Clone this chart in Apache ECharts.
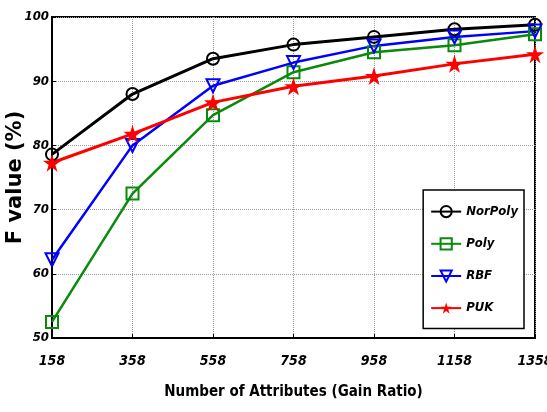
<!DOCTYPE html>
<html>
<head>
<meta charset="utf-8">
<script src="https://cdn.jsdelivr.net/npm/echarts@6/dist/echarts.min.js"></script>
<style>
  html, body { margin: 0; padding: 0; background: #fff; }
  #chart { width: 547px; height: 412px; }
</style>
</head>
<body>
<div id="chart"></div>
<script>
// number of attributes on the x axis
const attributes = ['158', '358', '558', '758', '958', '1158', '1358'];

// F value (%) per kernel
const norPoly = [78.6, 88.0, 93.5, 95.7, 96.9, 98.1, 98.8];
const poly    = [52.5, 72.5, 84.7, 91.4, 94.5, 95.6, 97.3];
const rbf     = [62.2, 80.0, 89.3, 92.9, 95.5, 96.9, 97.8];
const puk     = [77.3, 81.8, 86.7, 89.2, 90.8, 92.7, 94.2];

const yTicks = [50, 60, 70, 80, 90, 100];

const FONT = '"DejaVu Sans Condensed", "Liberation Sans", sans-serif';

const triDown = 'path://M0,0 L10,0 L5,10 Z';
const star = 'path://M50,0 L61,35 L98,35 L68,57 L79,91 L50,70 L21,91 L32,57 L2,35 L39,35 Z';

function makeSeries(name, data, color, symbol, size, filled, width) {
  return {
    name: name,
    type: 'line',
    data: data,
    symbol: symbol,
    symbolSize: size,
    showAllSymbol: true,
    lineStyle: { color: color, width: width },
    itemStyle: {
      color: filled ? color : 'rgba(255,255,255,0)',
      borderColor: color,
      borderWidth: filled ? 0 : 2
    },
    emphasis: { disabled: true },
    z: 3
  };
}

const chart = echarts.init(document.getElementById('chart'), null, { renderer: 'canvas' });

chart.setOption({
  animation: false,
  backgroundColor: '#fff',
  grid: {
    left: 52, right: 12, top: 17, bottom: 74,
    outerBoundsMode: 'none', containLabel: false,
    show: true, borderColor: '#000', borderWidth: 2
  },
  legend: {
    orient: 'vertical',
    right: 23,
    top: 190,
    itemWidth: 30,
    itemHeight: 14,
    itemGap: 19,
    padding: [15, 6, 14, 7],
    backgroundColor: '#fff',
    borderColor: '#000',
    borderWidth: 1.5,
    textStyle: { fontFamily: FONT, fontSize: 13, fontStyle: 'italic', fontWeight: 'bold', color: '#000' },
    data: ['NorPoly', 'Poly', 'RBF', 'PUK']
  },
  xAxis: {
    type: 'category',
    data: attributes,
    boundaryGap: false,
    name: 'Number of Attributes (Gain Ratio)',
    nameLocation: 'middle',
    nameGap: 47,
    nameTextStyle: { fontFamily: FONT, fontSize: 15, fontWeight: 'bold', color: '#000' },
    axisLine: { lineStyle: { color: '#000', width: 2 } },
    axisTick: { show: true, inside: true, length: 4, lineStyle: { color: '#000' } },
    axisLabel: { fontFamily: FONT, fontSize: 14, fontStyle: 'italic', fontWeight: 'bold', color: '#000', margin: 16 },
    splitLine: { show: true, lineStyle: { color: '#999', width: 1, type: 'dotted' } }
  },
  yAxis: {
    type: 'value',
    min: yTicks[0],
    max: yTicks[yTicks.length - 1],
    interval: 10,
    name: 'F value (%)',
    nameLocation: 'middle',
    nameGap: 26,
    nameMoveOverlap: false,
    nameTextStyle: { fontFamily: '"DejaVu Sans", sans-serif', fontSize: 21, fontWeight: 'bold', color: '#000' },
    axisLine: { show: true, lineStyle: { color: '#000', width: 2 } },
    axisTick: { show: true, inside: true, length: 4, lineStyle: { color: '#000' } },
    axisLabel: { fontFamily: FONT, fontSize: 13, fontStyle: 'italic', fontWeight: 'bold', color: '#000', margin: 3 },
    splitLine: { show: true, lineStyle: { color: '#999', width: 1, type: 'dotted' } }
  },
  series: [
    makeSeries('NorPoly', norPoly, '#000000', 'circle', 12, false, 3),
    makeSeries('Poly', poly, '#0a8a0a', 'rect', 12, false, 2.5),
    makeSeries('RBF', rbf, '#0000ff', triDown, 13, false, 2.5),
    makeSeries('PUK', puk, '#ff0000', star, 18, true, 3)
  ]
});
</script>
</body>
</html>
